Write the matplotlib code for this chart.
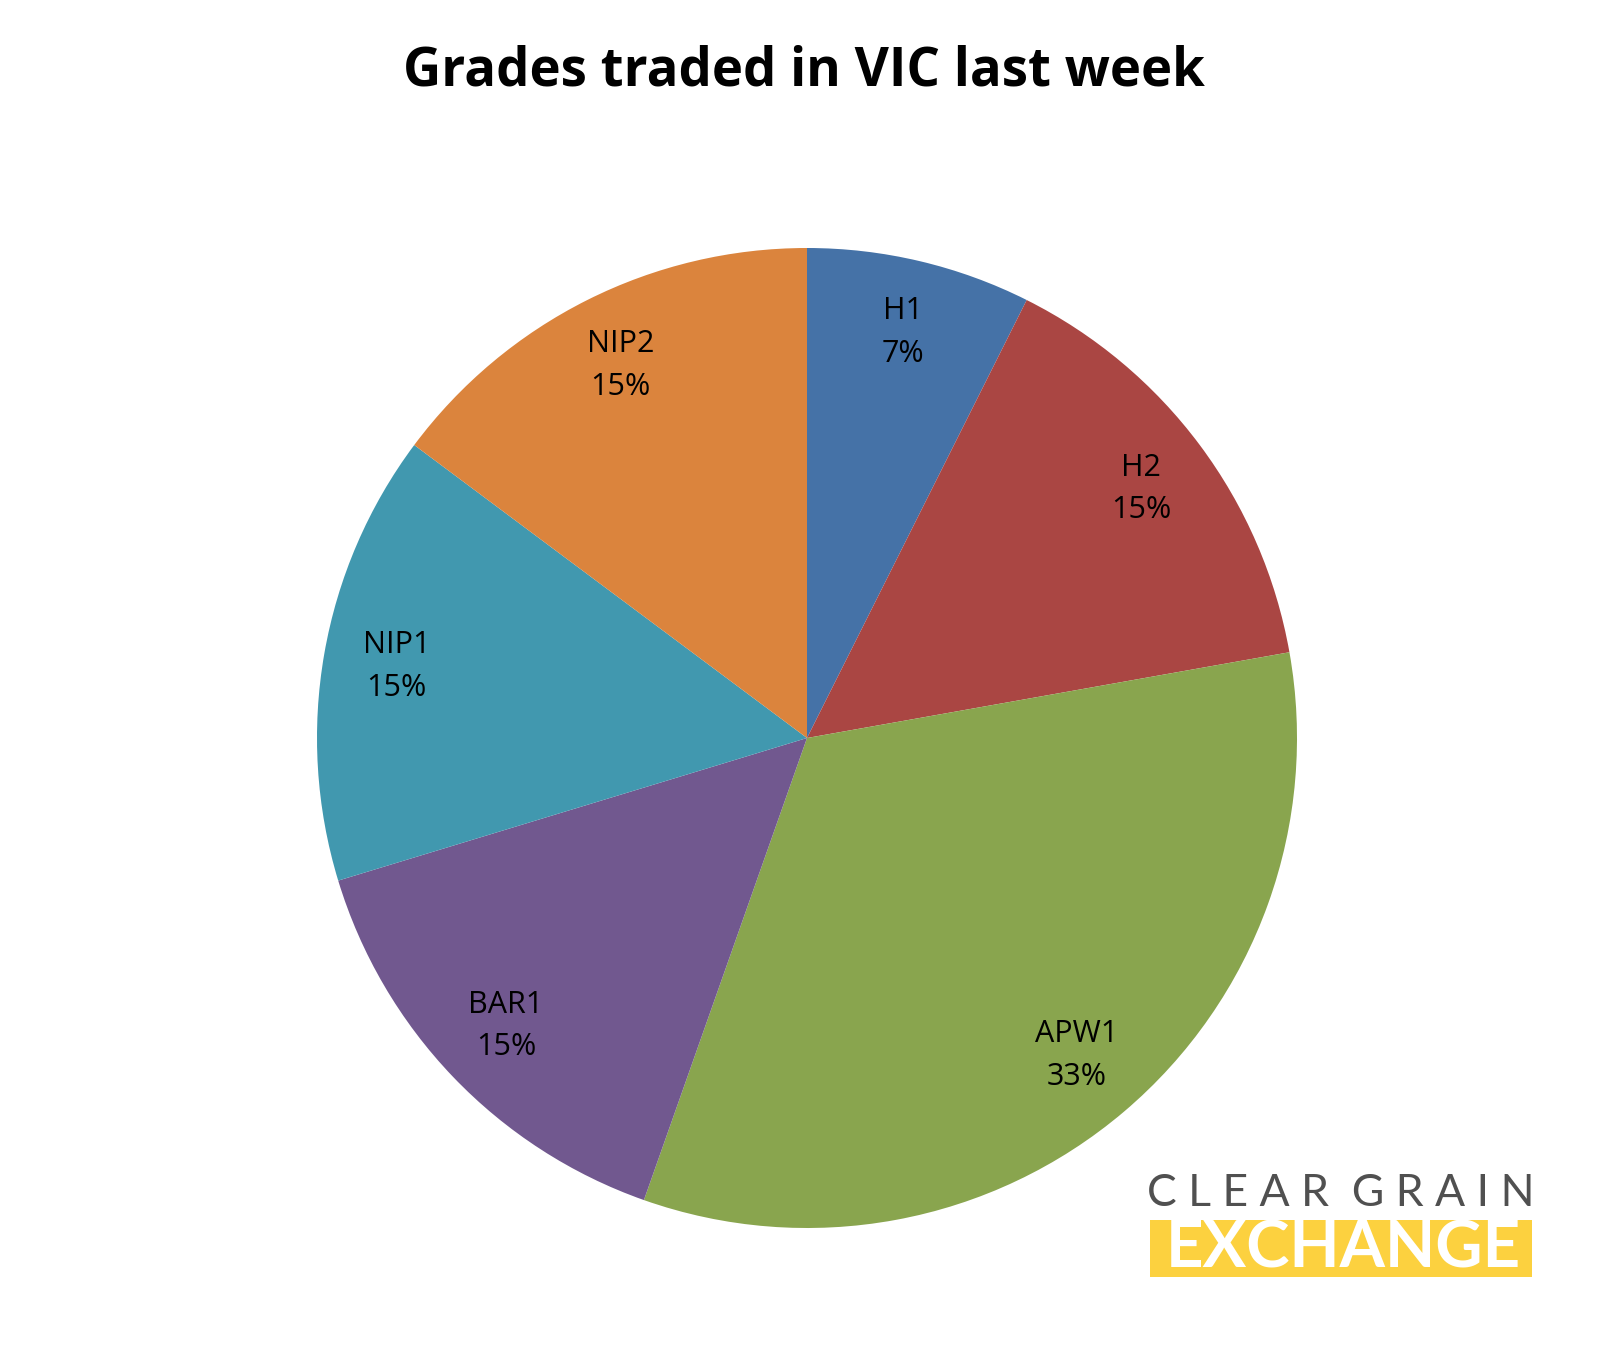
import matplotlib
matplotlib.use("Agg")
import matplotlib.pyplot as plt
from matplotlib.patches import Rectangle

labels = ["H1", "H2", "APW1", "BAR1", "NIP1", "NIP2"]
values = [7.4, 14.8, 33.2, 14.9, 14.9, 14.8]
pct_labels = ["7%", "15%", "33%", "15%", "15%", "15%"]
colors = ["#4572A7", "#AA4643", "#89A54E", "#71588F", "#4198AF", "#DB843D"]

W, H = 1608, 1350
fig = plt.figure(figsize=(W/100, H/100), dpi=100)
fig.patch.set_facecolor("white")
cx, cy, r = 807, 1350-738, 490
ax = fig.add_axes([(cx-r)/W, (cy-r)/H, 2*r/W, 2*r/H])
wedges, texts = ax.pie(values, colors=colors, startangle=90, counterclock=False,
                       labels=[f"{l}\n{p}" for l, p in zip(labels, pct_labels)],
                       labeldistance=0.85, wedgeprops=dict(linewidth=0),
                       textprops=dict(fontsize=22, family="Open Sans", ha="center", va="center",
                                      linespacing=1.55))
ax.set_xlim(-1, 1); ax.set_ylim(-1, 1); ax.set_aspect("equal")

fig.text(0.5, 1-72/H, "Grades traded in VIC last week", ha="center", va="center",
         fontsize=38, fontweight="bold", family="Open Sans")

# logo
fig.text(1341/W, 1-1193/H, "C L E A R  G R A I N", ha="center", va="center",
         fontsize=32, color="#505050", family="Lato")
fig.patches.append(Rectangle((1150/W, 1-1277/H), 382/W, 57/H, transform=fig.transFigure,
                             facecolor="#FCD13F", edgecolor="none"))
fig.text(1343/W, 1-1249/H, "EXCHANGE", ha="center", va="center", fontsize=47,
         color="white", fontweight="bold", family="Lato")
fig.savefig("out.png", dpi=100)
